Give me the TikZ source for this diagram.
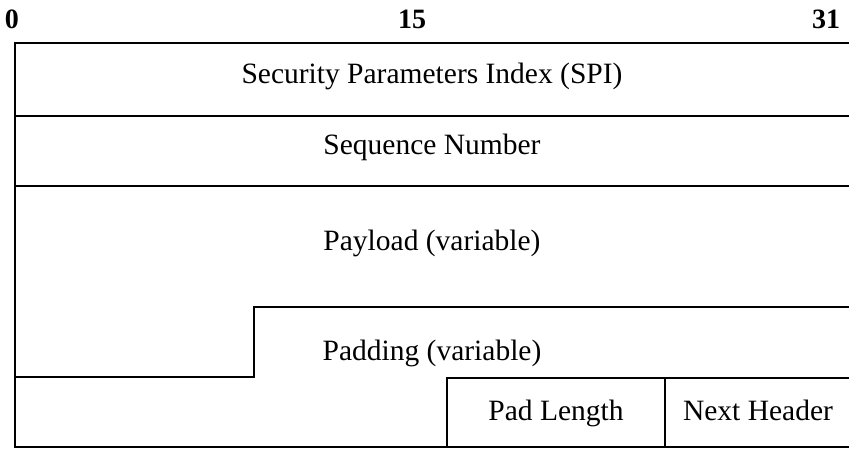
\documentclass[tikz,border=0pt]{standalone}
\usepackage{fontspec}
\setmainfont{Liberation Serif}
\begin{document}
\begin{tikzpicture}[x=1pt,y=-1pt,
  frame/.style={line width=2.8pt,line cap=rect,line join=miter},
  field/.style={font=\fontsize{29.5}{34}\selectfont,inner sep=0pt,anchor=base},
  bitno/.style={font=\fontsize{28}{32}\selectfont\bfseries,inner sep=0pt,anchor=base}]
\useasboundingbox (0,0) rectangle (849,451);
% bit numbers
\node[bitno] (b0)  at (12,28)  {0};
\node[bitno] (b15) at (412,28) {15};
\node[bitno] (b31) at (826,28) {31};
% outline and row separators
\draw[frame] (849,43) -- (15,43) -- (15,447) -- (849,447);
\draw[frame] (15,116) -- (849,116);
\draw[frame] (15,186) -- (849,186);
% step between payload and padding
\draw[frame] (849,307) -- (254,307) -- (254,377) -- (15,377);
% pad length / next header cells
\draw[frame] (447,447) -- (447,378) -- (849,378);
\draw[frame] (665,378) -- (665,447);
% field labels
\node[field] (spi) at (432,83)  {Security Parameters Index (SPI)};
\node[field] (seq) at (432,154) {Sequence Number};
\node[field] (pay) at (432,250) {Payload (variable)};
\node[field] (pad) at (432,360) {Padding (variable)};
\node[field] (pl)  at (556,420) {Pad Length};
\node[field] (nh)  at (758,420) {Next Header};
\end{tikzpicture}
\end{document}
